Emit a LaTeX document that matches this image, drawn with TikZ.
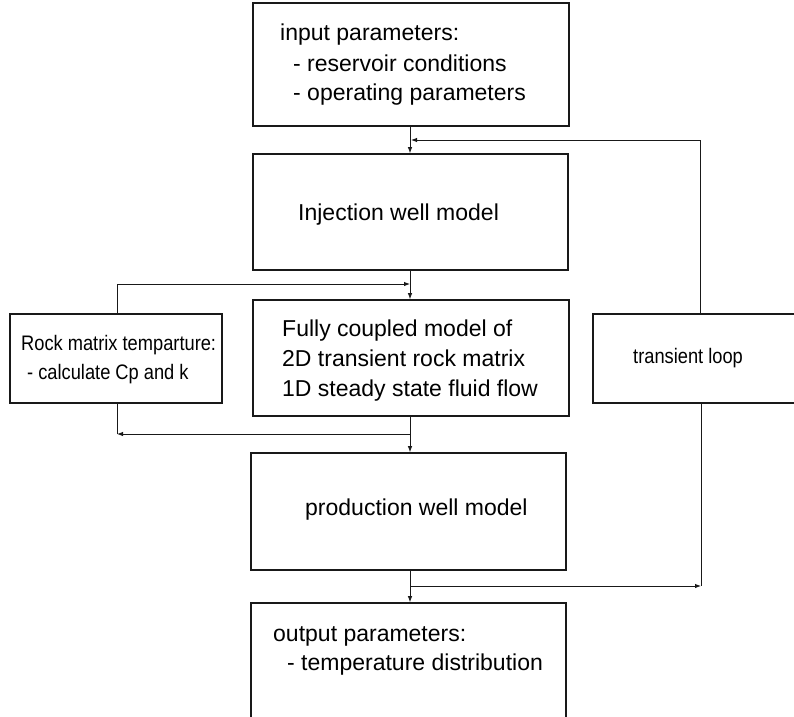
\documentclass[tikz,border=0pt]{standalone}
\usepackage{fontspec}
\setmainfont{Liberation Sans}
\usetikzlibrary{arrows.meta}
\tikzset{
  blk/.style={draw=black!90, line width=1.6pt, rectangle, inner sep=0pt},
  conn/.style={draw=black!90, line width=0.9pt},
  arr/.style={conn, -{Latex[length=6pt,width=4.5pt]}},
  lbl/.style={anchor=base west, inner sep=0pt, font=\fontsize{23}{27}\selectfont},
  nlbl/.style={anchor=base west, inner sep=0pt, font=\fontsize{21}{25}\selectfont, xscale=0.87}
}
\newcommand{\boxat}[5]{\node[blk, minimum width={#4-#2}, minimum height={#5-#3}] (#1) at ({(#2+#4)/2},{(#3+#5)/2}) {};}
\begin{document}
\begin{tikzpicture}[x=1pt,y=-1pt]
\useasboundingbox (0,0) rectangle (794,716);
\clip (0,0) rectangle (794,716);
% flowchart boxes
\boxat{in}{253}{3}{569}{126}
\boxat{inj}{253}{154}{568}{270}
\boxat{fc}{253}{300}{569}{416}
\boxat{rock}{10}{314}{222}{403}
\boxat{loop}{593}{314}{812}{403}
\boxat{prod}{251}{453}{566}{570}
\boxat{out}{251}{603}{566}{740}
% labels (baselines)
\node[lbl] (t1) at (280,40) {input parameters:};
\node[lbl] (t2) at (293,71) {- reservoir conditions};
\node[lbl] (t3) at (293,100) {- operating parameters};
\node[lbl] (t4) at (298,220) {Injection well model};
\node[lbl] (t5) at (282,336) {Fully coupled model of};
\node[lbl] (t6) at (282,366) {2D transient rock matrix};
\node[lbl] (t7) at (282,396) {1D steady state fluid flow};
\node[nlbl] (t8) at (21,350.5) {Rock matrix temparture:};
\node[nlbl] (t9) at (27,379.5) {- calculate Cp and k};
\node[nlbl] (t10) at (633,363.5) {transient loop};
\node[lbl] (t11) at (305,515) {production well model};
\node[lbl] (t12) at (273,641) {output parameters:};
\node[lbl] (t13) at (287,670) {- temperature distribution};
% spine and junction points
\coordinate (sp) at (410,0);
\coordinate (lx) at (700,0);
\coordinate (rx) at (117,0);
\coordinate (j1) at (411,140);
\coordinate (j2) at (410,284);
\coordinate (j3) at (410,434);
\coordinate (j4) at (117,434);
\coordinate (j5) at (410,586);
\coordinate (j6) at (701,586);
% main flow
\draw[arr] (in.south -| sp) -- (inj.north -| sp);
\draw[arr] (inj.south -| sp) -- (fc.north -| sp);
\draw[arr] (fc.south -| sp) -- (prod.north -| sp);
\draw[arr] (prod.south -| sp) -- (out.north -| sp);
% transient loop
\draw[arr] (loop.north -| lx) |- (j1);
\draw[arr] (j5) -- (j6);
\draw[conn] (loop.south -| j6) -- (j6);
% rock matrix feedback
\draw[arr] (rock.north -| rx) |- (j2);
\draw[arr] (j3) -- (j4);
\draw[conn] (rock.south -| j4) -- (j4);
\end{tikzpicture}
\end{document}
